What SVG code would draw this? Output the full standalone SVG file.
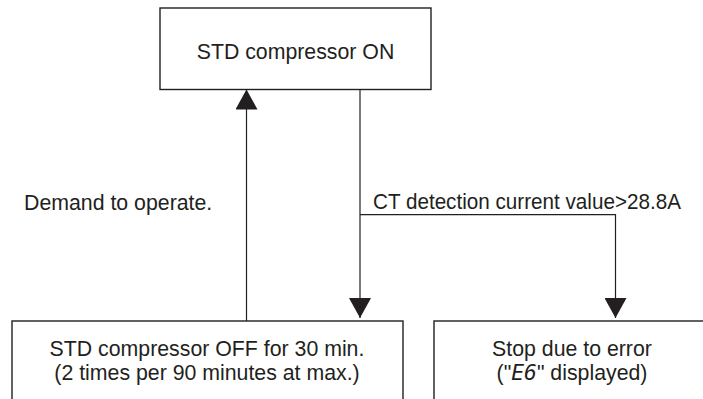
<svg xmlns="http://www.w3.org/2000/svg" width="703" height="399" viewBox="0 0 703 399">
<style>
.box{fill:#fff;stroke:#231f20;stroke-width:1.4}
.ln{fill:none;stroke:#231f20;stroke-width:1.2}
.t{font-family:"Liberation Sans",Arial,sans-serif;font-size:21.3px;fill:#231f20}
.m{text-anchor:middle}
.seg{font-family:"DejaVu Sans Mono",monospace;font-style:italic}
</style>
<defs>
<marker id="ah" markerUnits="userSpaceOnUse" markerWidth="20" markerHeight="22" refX="20" refY="11" orient="auto" viewBox="0 0 20 22">
<path d="M0,0 L20,11 L0,22 Z" fill="#231f20"/>
</marker>
</defs>
<rect width="703" height="399" fill="#fff"/>
<g id="connectors">
<path class="ln" d="M360,89.5 V318" marker-end="url(#ah)"/>
<path class="ln" d="M360,214.7 H615.5 V318" marker-end="url(#ah)"/>
<path class="ln" d="M246.5,321 V89.5" marker-end="url(#ah)"/>
<text class="t" x="24" y="210">Demand to operate.</text>
<text class="t" x="373" y="209" textLength="308" lengthAdjust="spacingAndGlyphs">CT detection current value&gt;28.8A</text>
</g>
<g id="node-on">
<rect class="box" x="160" y="8" width="271" height="81.5"/>
<text class="t m" x="295.5" y="59">STD compressor ON</text>
</g>
<g id="node-off">
<rect class="box" x="12" y="321" width="391" height="100"/>
<text class="t m" x="207" y="356">STD compressor OFF for 30 min.</text>
<text class="t m" x="207" y="380">(2 times per 90 minutes at max.)</text>
</g>
<g id="node-error">
<rect class="box" x="434" y="321" width="300" height="100"/>
<text class="t m" x="572" y="356">Stop due to error</text>
<text class="t m" x="572" y="380">("<tspan class="seg">E6</tspan>" displayed)</text>
</g>
</svg>
